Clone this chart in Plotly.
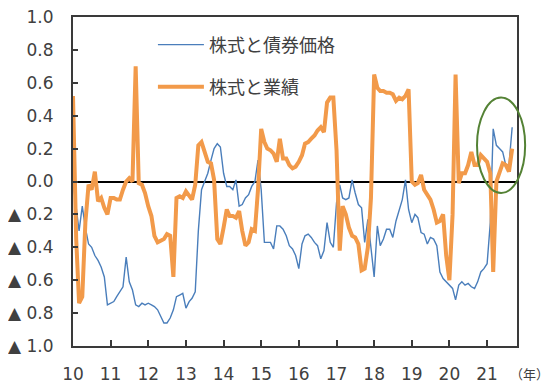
import pandas as pd
import plotly.graph_objects as go

# ---- data (monthly, Jan 2010 - Sep 2021) ----
start_month = "2010-01-01"
bond_corr = [
    0.00, -0.15, -0.30, -0.15, -0.28, -0.38, -0.40, -0.45, -0.48, -0.52, -0.58, -0.75,
    -0.74, -0.73, -0.70, -0.67, -0.64, -0.46, -0.61, -0.66, -0.75, -0.76, -0.74, -0.75,
    -0.74, -0.75, -0.76, -0.78, -0.82, -0.86, -0.86, -0.83, -0.78, -0.70, -0.69, -0.68,
    -0.77, -0.73, -0.71, -0.67, -0.30, -0.05, 0.00, 0.05, 0.13, 0.20, 0.23, 0.21,
    0.05, -0.03, -0.03, -0.05, 0.01, -0.15, -0.14, -0.10, -0.08, -0.03, 0.00, 0.13,
    -0.05, -0.37, -0.37, -0.37, -0.41, -0.27, -0.27, -0.29, -0.33, -0.39, -0.41, -0.45,
    -0.53, -0.38, -0.33, -0.32, -0.34, -0.37, -0.39, -0.47, -0.42, -0.25, -0.37, -0.40,
    -0.13, -0.02, -0.10, -0.11, -0.10, 0.01, -0.07, -0.14, -0.16, -0.37, -0.23, -0.40,
    -0.58, -0.27, -0.39, -0.35, -0.29, -0.29, -0.34, -0.24, -0.17, -0.11, 0.01, -0.17,
    -0.25, -0.20, -0.22, -0.31, -0.32, -0.38, -0.34, -0.35, -0.39, -0.55, -0.59, -0.61,
    -0.63, -0.65, -0.72, -0.63, -0.61, -0.63, -0.62, -0.64, -0.65, -0.61, -0.55, -0.53,
    -0.50, -0.25, 0.32, 0.22, 0.20, 0.18, 0.10, 0.10, 0.33,
]
earn_corr = [
    0.52, -0.35, -0.74, -0.70, -0.25, -0.02, -0.05, 0.06, -0.12, -0.10, -0.16, -0.20,
    -0.10, -0.10, -0.11, -0.11, -0.05, 0.00, 0.02, 0.00, 0.70, -0.01, -0.02, -0.07,
    -0.15, -0.21, -0.33, -0.37, -0.36, -0.35, -0.32, -0.33, -0.58, -0.10, -0.09, -0.10,
    -0.06, -0.09, -0.11, -0.02, 0.22, 0.24, 0.18, 0.12, 0.11, 0.01, -0.35, -0.38,
    -0.28, -0.17, -0.21, -0.21, -0.22, -0.18, -0.30, -0.39, -0.37, -0.29, -0.30, -0.05,
    0.32, 0.24, 0.20, 0.19, 0.17, 0.12, 0.26, 0.14, 0.14, 0.10, 0.08, 0.09,
    0.12, 0.16, 0.23, 0.24, 0.26, 0.28, 0.31, 0.33, 0.30, 0.48, 0.51, 0.51,
    0.19, -0.42, -0.15, -0.20, -0.28, -0.33, -0.34, -0.38, -0.54, -0.53, -0.40, -0.10,
    0.65, 0.57, 0.55, 0.55, 0.54, 0.54, 0.53, 0.49, 0.51, 0.50, 0.52, 0.56,
    0.00, -0.02, -0.01, 0.04, -0.05, -0.08, -0.11, -0.17, -0.25, -0.24, -0.20, -0.45,
    -0.60, -0.20, 0.65, -0.01, 0.05, 0.05, 0.10, 0.18, 0.10, 0.10, 0.16, 0.14,
    0.12, 0.05, -0.55, 0.00, 0.06, 0.11, 0.10, 0.06, 0.20,
]
series_names = ["株式と債券価格", "株式と業績"]
year_ticks = [str(y) for y in range(2010, 2022)]
year_labels = [y[2:] for y in year_ticks]
y_ticks = [-1.0, -0.8, -0.6, -0.4, -0.2, 0.0, 0.2, 0.4, 0.6, 0.8, 1.0]
y_labels = ["▲ 1.0", "▲ 0.8", "▲ 0.6", "▲ 0.4", "▲ 0.2", "0.0", "0.2", "0.4", "0.6", "0.8", "1.0"]

dates = pd.date_range(start_month, periods=len(bond_corr), freq="MS")

TXT = "#404040"
FRAME = "#3a3a3a"
BLUE = "#4A7EBB"
ORANGE = "#F29A4A"
JP = "Noto Sans CJK JP"
NUM = "DejaVu Sans"

W, H = 542, 380
M = dict(l=65, r=33, t=9, b=42)

x_range = ["2010-01-01", "2021-10-18"]
y_range = [-1, 1]
x0_ts, x1_ts = pd.Timestamp(x_range[0]), pd.Timestamp(x_range[1])
span = x1_ts - x0_ts

fig = go.Figure()
fig.add_trace(go.Scatter(x=dates, y=bond_corr, mode="lines", name=series_names[0],
                         line=dict(color=BLUE, width=1.4), legend="legend"))
fig.add_trace(go.Scatter(x=dates, y=earn_corr, mode="lines", name=series_names[1],
                         line=dict(color=ORANGE, width=4), legend="legend2"))

fig.update_xaxes(range=x_range, tickvals=[y + "-01-01" for y in year_ticks], ticktext=year_labels,
                 ticks="inside", ticklen=6, tickcolor=FRAME, tickwidth=1.5,
                 showline=True, mirror=True, linecolor=FRAME, linewidth=2,
                 showgrid=False, zeroline=False, automargin=False,
                 ticklabelstandoff=12, ticklabeloverflow="allow",
                 tickfont=dict(family=NUM, size=17, color=TXT))
fig.update_yaxes(range=y_range, tickvals=y_ticks, ticktext=y_labels,
                 ticks="inside", ticklen=5, tickcolor=FRAME, tickwidth=1.5,
                 showline=True, mirror=True, linecolor=FRAME, linewidth=2,
                 showgrid=False,
                 zeroline=True, zerolinecolor="black", zerolinewidth=1.5,
                 automargin=False, ticklabeloverflow="allow", ticklabelstandoff=14,
                 tickfont=dict(family=NUM, size=17, color=TXT))

def xpaper(ts):
    return (pd.Timestamp(ts) - x0_ts) / span
def ypaper(v):
    return (v - y_range[0]) / (y_range[1] - y_range[0])

# green ellipse highlighting the latest months
fig.add_shape(type="circle", xref="paper", yref="paper",
              x0=xpaper("2020-09-25"), x1=xpaper("2022-01-05"),
              y0=ypaper(-0.07), y1=ypaper(0.51),
              line=dict(color="#548235", width=2), fillcolor="rgba(0,0,0,0)")

fig.add_annotation(text="（年）", xref="paper", yref="paper", x=1.029, y=-0.085,
                   showarrow=False, font=dict(family=JP, size=13, color=TXT),
                   xanchor="center", yanchor="middle")

leg_common = dict(bgcolor="rgba(0,0,0,0)", borderwidth=0, itemwidth=46,
                  font=dict(family=JP, size=18, color=TXT), xanchor="left", yanchor="middle")
fig.update_layout(
    template="none",
    width=W, height=H,
    margin=dict(**M, autoexpand=False),
    paper_bgcolor="white", plot_bgcolor="white",
    showlegend=True,
    legend=dict(x=0.18, y=0.915, **leg_common),
    legend2=dict(x=0.18, y=0.787, **leg_common),
)

fig.write_html("out.html")
